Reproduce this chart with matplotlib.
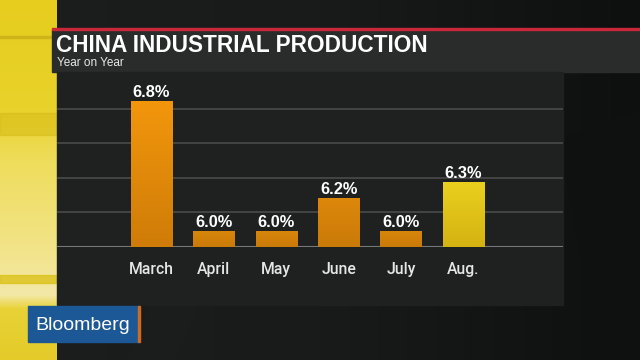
import numpy as np
import matplotlib
matplotlib.use("Agg")
import matplotlib.pyplot as plt
from matplotlib.patches import Rectangle, Polygon
from matplotlib.colors import LinearSegmentedColormap

# ---- data ----
months = ["March", "April", "May", "June", "July", "Aug."]
values = [6.8, 6.0, 6.0, 6.2, 6.0, 6.3]
value_labels = ["6.8%", "6.0%", "6.0%", "6.2%", "6.0%", "6.3%"]
title = "CHINA INDUSTRIAL PRODUCTION"
subtitle = "Year on Year"

W, H = 640, 360
fig = plt.figure(figsize=(6.4, 3.6), dpi=100)
fig.patch.set_facecolor("#141515")

def fx(px):
    return px / W

def fy(py):
    return 1 - py / H

# background decoration
bg = fig.add_axes([0, 0, 1, 1])
bg.set_xlim(0, W)
bg.set_ylim(H, 0)
bg.axis("off")
grad = np.linspace(0, 1, 256)[None, :]
bg.imshow(grad, extent=(0, W, H, 0), cmap=LinearSegmentedColormap.from_list("b", ["#1c1d1d", "#191a1a", "#0e0f0f"]),
          aspect="auto", zorder=0)
bg.add_patch(Polygon([[560, 140], [640, 110], [640, 360], [600, 360]], closed=True, color="#0f1010", zorder=1))
bg.add_patch(Polygon([[150, 305], [200, 305], [175, 360], [125, 360]], closed=True, color="#1b1c1c", zorder=1))
# yellow strip
ycm = LinearSegmentedColormap.from_list(
    "y", [(0, "#e6cd1e"), (0.3, "#e9d22a"), (0.45, "#efdd5c"), (0.7, "#f2e48a"),
          (0.82, "#f3e8a8"), (0.86, "#e8d235"), (1, "#e4cb2a")])
bg.imshow(np.linspace(0, 1, 256)[:, None], extent=(0, 57, H, 0), cmap=ycm, aspect="auto", zorder=2)
bg.add_patch(Rectangle((0, 113), 57, 22, color="#d6bb14", alpha=0.55, zorder=3))
bg.add_patch(Rectangle((0, 275), 57, 8, color="#dcc21a", alpha=0.8, zorder=3))
bg.add_patch(Rectangle((0, 36), 57, 2, color="#cdb418", zorder=3))
# title box
bg.add_patch(Rectangle((52, 30), W - 52, 42, color="#2a2b2b", zorder=4))
bg.add_patch(Rectangle((52, 28), W - 52, 2.4, color="#c8283a", zorder=5))
# chart panel
bg.add_patch(Rectangle((57, 72), 506, 233, color="#1f2020", zorder=4))
# Bloomberg logo
bg.add_patch(Rectangle((28, 306), 111, 36, color="#1d5896", zorder=6))
bg.add_patch(Rectangle((138, 306), 2, 36, color="#d06a20", zorder=7))
bg.text(83, 325, "Bloomberg", color="white", fontsize=14, family="Liberation Sans",
        ha="center", va="center", zorder=8)
bg.text(56, 46, title, color="white", fontsize=16.3, fontweight="bold", family="Liberation Sans",
        ha="left", va="center", zorder=8)
bg.text(57, 63, subtitle, color="#e8e8e8", fontsize=8.5, family="Liberation Sans",
        ha="left", va="center", zorder=8)

# ---- chart ----
ax = fig.add_axes([fx(57), fy(247), fx(563) - fx(57), (247 - 74.5) / H])
ax.set_facecolor("none")
ymin, ymax = 5.9, 6.9615
x = np.arange(len(months))
colors_top = ["#f2960c", "#d9870b", "#d9870b", "#dd880b", "#d9870b", "#ead01e"]
colors_bot = ["#cf7c08", "#c97a08", "#c97a08", "#c97a08", "#c97a08", "#d4b212"]
bars = ax.bar(x, [v - ymin for v in values], bottom=ymin, width=0.665, color=colors_top, zorder=3)
for b, ct, cb in zip(bars, colors_top, colors_bot):
    cm = LinearSegmentedColormap.from_list("g", [cb, ct])
    x0, y0 = b.get_x(), b.get_y()
    im = ax.imshow(np.linspace(0, 1, 64)[:, None], extent=(x0, x0 + b.get_width(), y0, y0 + b.get_height()),
                   origin="lower", cmap=cm, aspect="auto", zorder=4)
    im.set_clip_path(b)
for b, v, lab in zip(bars, values, value_labels):
    ax.annotate(lab, (b.get_x() + b.get_width() / 2, v), xytext=(0, 3), textcoords="offset points",
                ha="center", va="baseline", color="white", fontsize=11.8, fontweight="bold",
                family="Liberation Sans", zorder=5)
ax.set_xlim(-1.514, 6.595)
ax.set_ylim(ymin, ymax)
ax.set_yticks(np.linspace(ymin, ymax, 6)[1:])
ax.set_yticklabels([])
ax.grid(axis="y", color="#4a4b4b", linewidth=1.2, zorder=1)
ax.axhline(ymin, color="#777878", linewidth=1.5, zorder=2)
ax.set_xticks(x)
ax.set_xticklabels(months, color="#e6e6e6", fontsize=11.3, family="Roboto", fontweight="medium")
ax.tick_params(axis="both", length=0, pad=11)
for s in ax.spines.values():
    s.set_visible(False)

fig.savefig("out.png", dpi=100, facecolor=fig.get_facecolor())
